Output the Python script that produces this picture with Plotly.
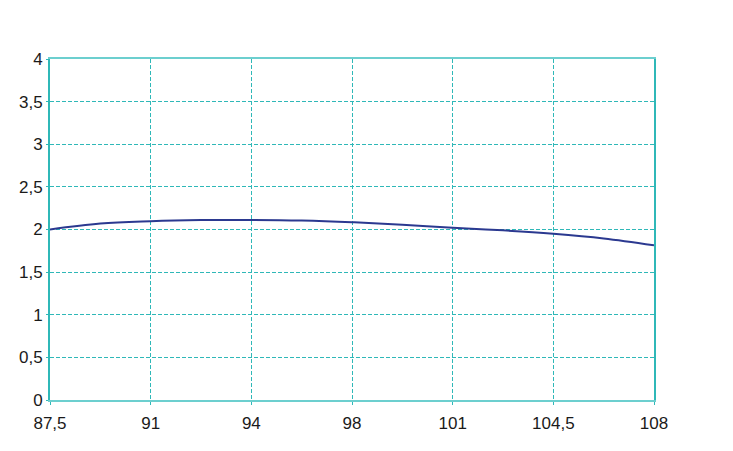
import plotly.graph_objects as go

# Category labels along the x axis (evenly spaced)
x_labels = ["87,5", "91", "94", "98", "101", "104,5", "108"]
# Curve sampled at every half category step
x_pos = [0, 0.5, 1, 1.5, 2, 2.5, 3, 3.5, 4, 4.5, 5, 5.5, 6]
y_vals = [2.00, 2.07, 2.097, 2.11, 2.112, 2.105, 2.085, 2.055, 2.02, 1.99, 1.95, 1.895, 1.815]

y_ticks = [0, 0.5, 1, 1.5, 2, 2.5, 3, 3.5, 4]
y_ticktext = ["0", "0,5", "1", "1,5", "2", "2,5", "3", "3,5", "4"]

teal = "#2fb8b8"

fig = go.Figure()
fig.add_trace(go.Scatter(
    x=x_pos, y=y_vals, mode="lines",
    line=dict(color="#2b3990", width=2, shape="spline", smoothing=1.0),
    hoverinfo="skip", showlegend=False,
))

fig.update_layout(
    width=733, height=451,
    margin=dict(l=42, r=87, t=51, b=59),
    paper_bgcolor="white", plot_bgcolor="white",
    font=dict(family="Liberation Sans, Arial, sans-serif", size=17, color="#1a1a1a"),
    showlegend=False,
)
fig.update_xaxes(
    range=[0, 6], tickmode="array", tickvals=list(range(len(x_labels))), ticktext=x_labels,
    showgrid=True, gridcolor=teal, gridwidth=1, griddash="4px,2px",
    showline=True, linecolor="#6ccfcf", linewidth=2, mirror=True,
    ticks="outside", ticklen=3, tickcolor=teal, zeroline=False,
    ticklabelstandoff=4,
)
fig.update_yaxes(
    range=[0, 4], tickmode="array", tickvals=y_ticks, ticktext=y_ticktext,
    showgrid=True, gridcolor=teal, gridwidth=1, griddash="4px,2px",
    showline=True, linecolor=teal, linewidth=2, mirror=True,
    ticks="outside", ticklen=2, tickcolor=teal, zeroline=False,
)

fig.write_html("out.html")
